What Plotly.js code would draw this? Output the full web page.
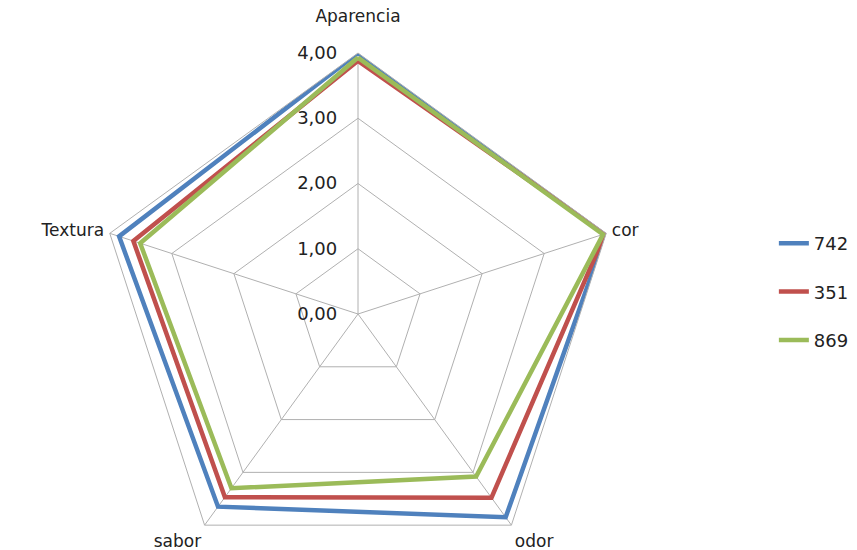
<!DOCTYPE html>
<html>
<head>
<meta charset="utf-8">
<script src="https://cdn.plot.ly/plotly-3.0.1.min.js"></script>
<style>
html,body{margin:0;padding:0;overflow:hidden;background:#fff;}
#chart{width:857px;height:600px;}
</style>
</head>
<body>
<div id="chart"></div>
<script>
const categories = ["Aparencia", "cor", "odor", "sabor", "Textura"];
const seriesNames = ["742", "351", "869"];
const s742 = [4.00, 4.00, 3.85, 3.65, 3.85];
const s351 = [3.88, 3.98, 3.48, 3.47, 3.62];
const s869 = [3.93, 3.95, 3.08, 3.30, 3.51];
const radialTicks = [0, 1, 2, 3, 4];
const radialTickText = ["0,00", "1,00", "2,00", "3,00", "4,00"];

const colors = ["#4F81BD", "#C0504D", "#9BBB59"];
const allSeries = [s742, s351, s869];

// top label gets an empty second line so it sits a little higher above the apex
const angularTickText = categories.map((c, i) => i === 0 ? c + "<br> " : c);

const traces = allSeries.map((vals, i) => ({
  type: "scatterpolar",
  mode: "lines",
  name: seriesNames[i],
  legendgroup: "g" + i,
  r: vals.concat([vals[0]]),
  theta: categories.concat([categories[0]]),
  line: {color: colors[i], width: 4.5},
  hoverinfo: "skip"
}));

const layout = {
  width: 857,
  height: 600,
  margin: {l: 97, r: 238, t: 53, b: 25},
  paper_bgcolor: "#ffffff",
  font: {family: "DejaVu Sans, Verdana, sans-serif", size: 18, color: "#222"},
  showlegend: true,
  legend: {
    xref: "container", yref: "container",
    x: 0.903, xanchor: "left",
    y: 0.625, yanchor: "top",
    font: {size: 18, color: "#222"},
    tracegroupgap: 22,
    bgcolor: "rgba(0,0,0,0)"
  },
  polar: {
    domain: {x: [0, 1], y: [0, 1]},
    bgcolor: "rgba(0,0,0,0)",
    gridshape: "linear",
    angularaxis: {
      direction: "clockwise",
      rotation: 90,
      showline: true,
      linecolor: "#b0b0b0",
      linewidth: 1,
      gridcolor: "#b0b0b0",
      gridwidth: 1,
      tickvals: categories,
      ticktext: angularTickText,
      ticks: "outside",
      ticklen: 2,
      tickcolor: "rgba(0,0,0,0)",
      tickfont: {size: 17, color: "#222"}
    },
    radialaxis: {
      range: [0, 4],
      angle: 90,
      side: "counterclockwise",
      tickvals: radialTicks,
      ticktext: radialTickText,
      tickangle: 90,
      showline: false,
      ticks: "outside",
      ticklen: 14,
      tickcolor: "rgba(0,0,0,0)",
      gridcolor: "#b0b0b0",
      gridwidth: 1,
      tickfont: {size: 18, color: "#222"}
    }
  }
};

Plotly.newPlot("chart", traces, layout, {displayModeBar: false, staticPlot: true});
</script>
</body>
</html>
